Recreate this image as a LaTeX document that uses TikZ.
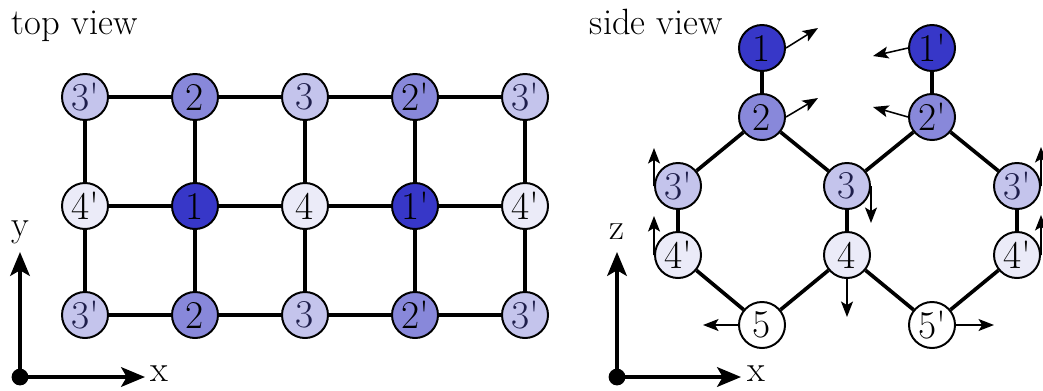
\documentclass[tikz,border=0pt]{standalone}
\usepackage{xcolor}
\usepackage{tikz}
\usetikzlibrary{arrows.meta,positioning}
\definecolor{tone1}{RGB}{55, 55, 200}
\definecolor{tone2}{RGB}{136, 136, 218}
\definecolor{tone3}{RGB}{196, 196, 236}
\definecolor{tone4}{RGB}{235, 235, 248}
\definecolor{navytext}{RGB}{30, 30, 75}
\newcommand{\prm}{\textquotesingle}

\begin{document}
\begin{tikzpicture}[x=0.025cm, y=-0.025cm,
    atom/.style={draw, circle, line width=1.4pt, minimum size=1.15cm, inner sep=0pt, font=\fontsize{28}{28}\selectfont},
    lvla/.style={atom, fill=tone1},
    lvlb/.style={atom, fill=tone2},
    lvlc/.style={atom, fill=tone3, text=navytext},
    lvld/.style={atom, fill=tone4},
    lvle/.style={atom, fill=white},
    bond/.style={line width=2.6pt},
    dispvec/.style={line width=1.1pt, -{Stealth[length=11pt, width=8.5pt, inset=2.5pt]}},
    axis/.style={line width=2.4pt, -{Stealth[length=17pt, width=14pt, inset=4pt]}},
    origin/.style={circle, fill=black, minimum size=0.42cm, inner sep=0pt},
    caption/.style={font=\fontsize{26}{30}\selectfont}]
    \useasboundingbox (0,0) rectangle (1043,390);

    % top view
    \node[caption, anchor=base west] (ttl) at (7,34) {top view};
    \node[lvlc] (a1) at (85,97) {3\prm};
    \node[lvlb] (a2) at (195,97) {2};
    \node[lvlc] (a3) at (305,97) {3};
    \node[lvlb] (a4) at (415,97) {2\prm};
    \node[lvlc] (a5) at (525,97) {3\prm};
    \node[lvld] (b1) at (85,206) {4\prm};
    \node[lvla] (b2) at (195,206) {1};
    \node[lvld] (b3) at (305,206) {4};
    \node[lvla] (b4) at (415,206) {1\prm};
    \node[lvld] (b5) at (525,206) {4\prm};
    \node[lvlc] (c1) at (85,315) {3\prm};
    \node[lvlb] (c2) at (195,315) {2};
    \node[lvlc] (c3) at (305,315) {3};
    \node[lvlb] (c4) at (415,315) {2\prm};
    \node[lvlc] (c5) at (525,315) {3\prm};
    \draw[bond] (a1) -- (a2) -- (a3) -- (a4) -- (a5);
    \draw[bond] (b1) -- (b2) -- (b3) -- (b4) -- (b5);
    \draw[bond] (c1) -- (c2) -- (c3) -- (c4) -- (c5);
    \draw[bond] (a1) -- (b1) -- (c1);
    \draw[bond] (a2) -- (b2) -- (c2);
    \draw[bond] (a3) -- (b3) -- (c3);
    \draw[bond] (a4) -- (b4) -- (c4);
    \draw[bond] (a5) -- (b5) -- (c5);

    % top view axes
    \node[origin] (o1) at (20,377) {};
    \coordinate (x1) at (145,377);
    \coordinate (y1) at (20,252);
    \draw[axis] (o1.center) -- (x1);
    \draw[axis] (o1.center) -- (y1);
    \node[caption] (xl1) at (159,374) {x};
    \node[caption] (yl1) at (20,232) {y};

    % side view
    \node[caption, anchor=base west] (stl) at (585,34) {side view};
    \node[lvla] (s1) at (762,48) {1};
    \node[lvla] (s1p) at (932,48) {1\prm};
    \node[lvlb] (s2) at (762,117) {2};
    \node[lvlb] (s2p) at (932,117) {2\prm};
    \node[lvlc] (s3a) at (678,186) {3\prm};
    \node[lvlc] (s3) at (847,186) {3};
    \node[lvlc] (s3b) at (1017,186) {3\prm};
    \node[lvld] (s4a) at (678,255) {4\prm};
    \node[lvld] (s4) at (847,255) {4};
    \node[lvld] (s4b) at (1017,255) {4\prm};
    \node[lvle] (s5) at (762,325) {5};
    \node[lvle] (s5p) at (932,325) {5\prm};
    \draw[bond] (s1) -- (s2);
    \draw[bond] (s1p) -- (s2p);
    \draw[bond] (s3a) -- (s2) -- (s3) -- (s2p) -- (s3b);
    \draw[bond] (s3a) -- (s4a);
    \draw[bond] (s3) -- (s4);
    \draw[bond] (s3b) -- (s4b);
    \draw[bond] (s4a) -- (s5) -- (s4) -- (s5p) -- (s4b);

    % displacements
    \coordinate (d1) at (818,28);
    \coordinate (d1p) at (873,56);
    \coordinate (d2) at (818,98);
    \coordinate (d2p) at (873,107);
    \coordinate (d3a) at (654,148);
    \coordinate (d3) at (871,223);
    \coordinate (d3b) at (1041,147);
    \coordinate (d4a) at (654,216);
    \coordinate (d4) at (847,317);
    \coordinate (d4b) at (1041,215);
    \coordinate (d5) at (703,325);
    \coordinate (d5p) at (994,325);
    \draw[dispvec] (s1.east) -- (d1);
    \draw[dispvec] (s1p.west) -- (d1p);
    \draw[dispvec] (s2.east) -- (d2);
    \draw[dispvec] (s2p.west) -- (d2p);
    \draw[dispvec] (s3a.west) -- (d3a);
    \draw[dispvec] (s3.east) -- (d3);
    \draw[dispvec] (s3b.east) -- (d3b);
    \draw[dispvec] (s4a.west) -- (d4a);
    \draw[dispvec] (s4.south) -- (d4);
    \draw[dispvec] (s4b.east) -- (d4b);
    \draw[dispvec] (s5.west) -- (d5);
    \draw[dispvec] (s5p.east) -- (d5p);

    % side view axes
    \node[origin] (o2) at (617,377) {};
    \coordinate (x2) at (741,377);
    \coordinate (z2) at (617,252);
    \draw[axis] (o2.center) -- (x2);
    \draw[axis] (o2.center) -- (z2);
    \node[caption] (xl2) at (756,374) {x};
    \node[caption] (zl2) at (617,232) {z};
\end{tikzpicture}
\end{document}
